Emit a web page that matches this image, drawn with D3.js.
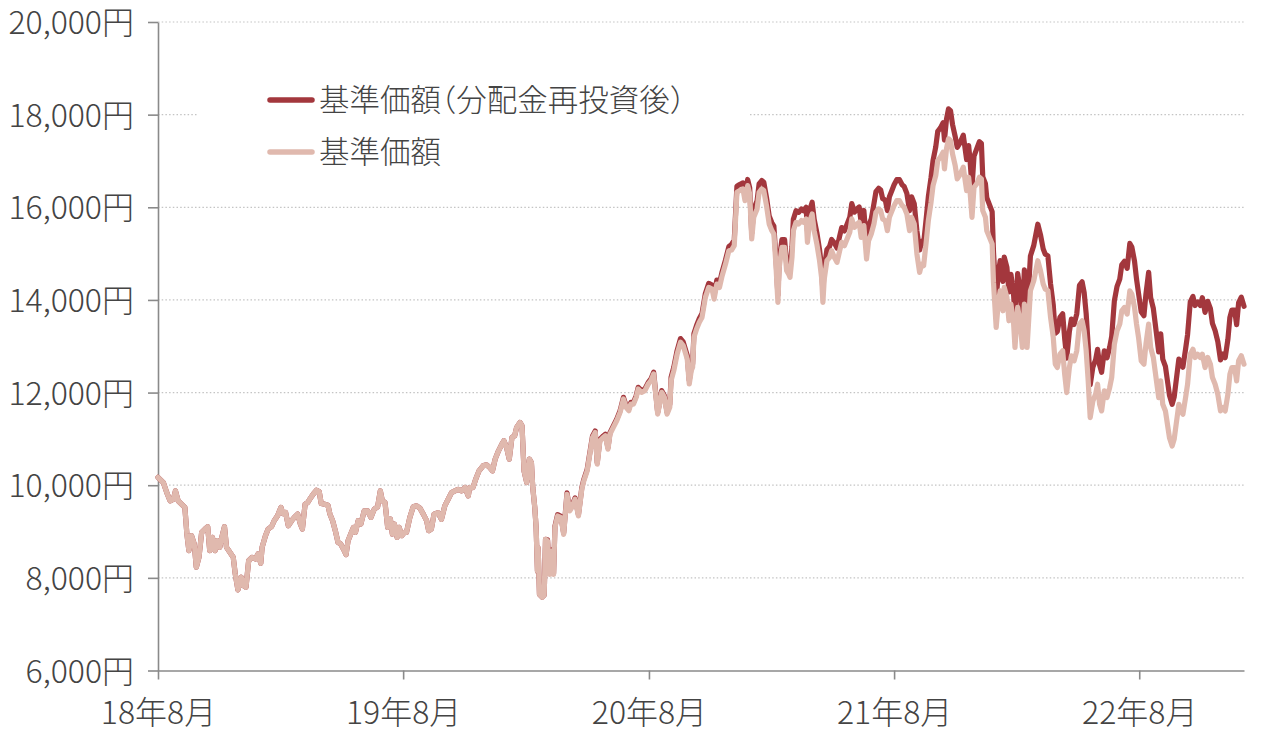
<!DOCTYPE html>
<html><head><meta charset="utf-8">
<script src="https://cdn.jsdelivr.net/npm/d3@7"></script>
<style>
body{margin:0;background:#fff}
svg{display:block}
text{font-family:"Noto Sans CJK JP","Noto Sans",sans-serif}
</style>
</head><body>
<svg id="chart" width="1280" height="743"></svg>
<script>
const dates = [
"2018-08-31","2018-09-08","2018-09-13","2018-09-18","2018-09-23","2018-09-26","2018-09-30","2018-10-05","2018-10-10","2018-10-13","2018-10-16","2018-10-20","2018-10-24","2018-10-27","2018-10-31","2018-11-04","2018-11-09","2018-11-13","2018-11-16","2018-11-20","2018-11-24","2018-11-27","2018-12-01","2018-12-04","2018-12-08","2018-12-11","2018-12-16","2018-12-21","2018-12-24","2018-12-28",
"2019-01-02","2019-01-05","2019-01-09","2019-01-13","2019-01-18","2019-01-23","2019-01-27","2019-01-31","2019-02-02","2019-02-07","2019-02-11","2019-02-16","2019-02-20","2019-02-25","2019-03-02","2019-03-05","2019-03-09","2019-03-13","2019-03-18","2019-03-22","2019-03-27","2019-03-31","2019-04-03","2019-04-07","2019-04-11","2019-04-14","2019-04-19","2019-04-24","2019-04-28","2019-05-01","2019-05-06","2019-05-11","2019-05-14","2019-05-18","2019-05-22","2019-05-26","2019-05-30","2019-06-03","2019-06-07","2019-06-10","2019-06-14","2019-06-18","2019-06-21","2019-06-25","2019-06-29","2019-07-04","2019-07-09","2019-07-14","2019-07-19","2019-07-24","2019-07-28","2019-07-31","2019-08-04","2019-08-08","2019-08-12","2019-08-15","2019-08-18","2019-08-22","2019-08-25","2019-08-29","2019-09-02","2019-09-05","2019-09-10","2019-09-15","2019-09-20","2019-09-25","2019-09-30","2019-10-05","2019-10-08","2019-10-12","2019-10-16","2019-10-22","2019-10-27","2019-11-01","2019-11-06","2019-11-11","2019-11-16","2019-11-21","2019-11-26","2019-12-01","2019-12-06","2019-12-08","2019-12-13","2019-12-17","2019-12-22","2019-12-28",
"2020-01-02","2020-01-07","2020-01-11","2020-01-15","2020-01-20","2020-01-25","2020-01-28","2020-02-01","2020-02-05","2020-02-09","2020-02-13","2020-02-16","2020-02-21","2020-02-24","2020-02-27","2020-03-02","2020-03-06","2020-03-09","2020-03-11","2020-03-14","2020-03-16","2020-03-18","2020-03-19","2020-03-21","2020-03-25","2020-03-28","2020-03-30","2020-04-02","2020-04-05","2020-04-08","2020-04-11","2020-04-13","2020-04-17","2020-04-22","2020-04-26","2020-05-01","2020-05-05","2020-05-08","2020-05-13","2020-05-18","2020-05-23","2020-05-26","2020-05-31","2020-06-04","2020-06-08","2020-06-12","2020-06-15","2020-06-19","2020-06-24","2020-06-27","2020-07-01","2020-07-04","2020-07-09","2020-07-14","2020-07-19","2020-07-24","2020-07-28","2020-08-01","2020-08-04","2020-08-08","2020-08-12","2020-08-15","2020-08-20","2020-08-25","2020-08-30","2020-09-03","2020-09-07","2020-09-11","2020-09-13","2020-09-16","2020-09-19","2020-09-23","2020-09-27","2020-10-01","2020-10-03","2020-10-07","2020-10-12","2020-10-17","2020-10-21","2020-10-24","2020-10-27","2020-10-30","2020-11-02","2020-11-04","2020-11-06","2020-11-10","2020-11-14","2020-11-18","2020-11-23","2020-11-28","2020-12-03","2020-12-06","2020-12-10","2020-12-14","2020-12-18","2020-12-23","2020-12-28",
"2021-01-01","2021-01-05","2021-01-09","2021-01-13","2021-01-18","2021-01-21","2021-01-25","2021-01-28","2021-01-31","2021-02-03","2021-02-08","2021-02-11","2021-02-15","2021-02-18","2021-02-22","2021-02-26","2021-03-02","2021-03-05","2021-03-08","2021-03-11","2021-03-13","2021-03-17","2021-03-21","2021-03-24","2021-03-27","2021-03-29","2021-04-01","2021-04-03","2021-04-07","2021-04-11","2021-04-15","2021-04-18","2021-04-22","2021-04-24","2021-04-27","2021-05-01","2021-05-04","2021-05-08","2021-05-12","2021-05-15","2021-05-17","2021-05-19","2021-05-23","2021-05-27","2021-05-30","2021-06-03","2021-06-07","2021-06-11","2021-06-14","2021-06-18","2021-06-22","2021-06-26","2021-06-29","2021-07-03","2021-07-07","2021-07-10","2021-07-13","2021-07-17","2021-07-21","2021-07-24","2021-07-28","2021-08-01","2021-08-04","2021-08-08","2021-08-11","2021-08-14","2021-08-18","2021-08-21","2021-08-24","2021-08-28","2021-08-31","2021-09-04","2021-09-08","2021-09-12","2021-09-15","2021-09-19","2021-09-23","2021-09-26","2021-09-30","2021-10-04","2021-10-08","2021-10-11","2021-10-14","2021-10-18","2021-10-21","2021-10-25","2021-10-28","2021-11-01","2021-11-04","2021-11-08","2021-11-12","2021-11-14","2021-11-17","2021-11-20","2021-11-23","2021-11-26","2021-11-30","2021-12-03","2021-12-07","2021-12-12","2021-12-17","2021-12-20","2021-12-22","2021-12-25","2021-12-28",
"2022-01-01","2022-01-05","2022-01-08","2022-01-10","2022-01-14","2022-01-16","2022-01-20","2022-01-24","2022-01-26","2022-01-30","2022-02-02","2022-02-05","2022-02-09","2022-02-11","2022-02-15","2022-02-18","2022-02-21","2022-02-25","2022-02-27","2022-03-03","2022-03-07","2022-03-10","2022-03-13","2022-03-17","2022-03-22","2022-03-27","2022-04-02","2022-04-06","2022-04-10","2022-04-13","2022-04-17","2022-04-21","2022-04-25","2022-04-28","2022-05-01","2022-05-05","2022-05-09","2022-05-12","2022-05-15","2022-05-19","2022-05-22","2022-05-26","2022-05-30","2022-06-03","2022-06-07","2022-06-10","2022-06-13","2022-06-16","2022-06-19","2022-06-23","2022-06-27","2022-06-30","2022-07-03","2022-07-06","2022-07-10","2022-07-14","2022-07-18","2022-07-21","2022-07-25","2022-07-29","2022-08-02","2022-08-05","2022-08-09","2022-08-13","2022-08-17","2022-08-20","2022-08-24","2022-08-27","2022-08-30","2022-09-03","2022-09-07","2022-09-10","2022-09-14","2022-09-17","2022-09-21","2022-09-25","2022-09-29","2022-10-02","2022-10-05","2022-10-09","2022-10-12","2022-10-15","2022-10-19","2022-10-22","2022-10-25","2022-10-29","2022-11-01","2022-11-04","2022-11-08","2022-11-11","2022-11-15","2022-11-19","2022-11-22","2022-11-26","2022-11-30","2022-12-03","2022-12-07","2022-12-11","2022-12-15","2022-12-18","2022-12-22","2022-12-26","2022-12-30",
"2023-01-03","2023-01-06","2023-01-10","2023-01-13","2023-01-16","2023-01-20","2023-01-23","2023-01-26","2023-01-30","2023-02-03"
];

// 基準価額
const nav = [
10170,10057,9842,9663,9700,9878,9663,9590,9520,8946,8588,8910,8730,8229,8444,8982,9054,9104,8588,8874,8588,8803,8659,8874,9104,8659,8552,8444,8086,7741,
8014,7835,7799,8372,8444,8408,8516,8315,8659,8910,9054,9104,9233,9340,9520,9390,9412,9125,9233,9305,9376,9161,9054,9591,9627,9699,9806,9892,9864,9606,9591,9570,9376,9233,9018,8767,8731,8623,8501,8803,8946,9090,8982,9233,9161,9448,9448,9305,9484,9534,9878,9663,9627,9090,9269,8946,9161,8874,9090,8910,8982,8982,9305,9534,9556,9505,9376,9233,9018,9054,9376,9409,9264,9553,9697,9841,9877,9913,9877,9950,9769,9950,9950,10130,10310,10418,
10440,10382,10310,10563,10743,10887,10959,10815,10563,11031,11067,11248,11356,11284,10310,10058,10563,10490,9950,9517,9084,8147,8651,7642,7584,7627,8832,8796,8074,8579,8074,9084,9336,9300,8940,9805,9445,9517,9697,9336,9913,10094,10310,10671,11031,11139,10454,10959,11031,11067,10779,11103,11248,11392,11572,11861,11680,11608,11752,11752,11897,12077,12005,12041,12185,12257,12402,11825,11536,11752,12005,11897,11536,11680,12257,12474,12834,13087,13015,12870,12726,12185,12474,12546,13195,13375,13519,13622,14054,14270,14234,14018,14342,14270,14523,14775,15063,
15077,15171,16324,16360,16396,16144,16468,16288,15315,15784,15964,16324,16396,16360,16036,15640,15495,15423,14775,13946,14703,15135,15135,14631,14559,14487,14919,15495,15676,15640,15712,15676,15748,15243,15676,15856,15495,15207,14847,14487,13946,14450,14847,14919,15063,14919,14811,15063,15243,15171,15315,15459,15748,15568,15640,15676,15351,15604,14883,15279,15423,15640,15892,15964,15928,15748,15712,15495,15784,15928,16036,16144,16144,16036,16000,15856,15495,15784,15640,14991,14595,14775,14739,15279,15712,16108,16468,16685,17009,17081,17189,16829,17261,17477,17441,17153,16901,16613,16700,16865,16360,16649,16360,15784,16432,
16504,16649,16613,15928,15784,15495,15351,15207,14378,13405,13910,14198,13766,14270,14054,13550,13910,13478,12973,13838,13478,12973,13910,12973,14198,14414,14847,14631,14342,14234,14198,13622,13189,12613,12541,12829,12901,12397,12000,12541,12793,12685,12901,13478,13550,13334,12901,12252,11459,11820,11964,12180,11748,11604,12036,11892,12108,12324,13045,13334,13478,13766,13838,13694,14198,14126,13838,13478,13189,12685,12613,13045,13478,12973,12757,12324,11892,12252,11748,11604,11316,11027,10847,10991,11316,11748,11604,11532,11892,12180,12829,12937,12757,12829,12757,12829,12541,12757,12613,12324,12180,11964,11604,
11676,11604,11964,12397,12541,12541,12252,12685,12793,12613
];

// 基準価額（分配金再投資後）
const navReinvested = [
10170,10057,9842,9663,9700,9878,9663,9590,9520,8946,8588,8910,8730,8229,8444,8982,9054,9104,8588,8874,8588,8803,8659,8874,9104,8659,8552,8444,8086,7741,
8014,7835,7799,8372,8444,8408,8516,8315,8659,8910,9054,9104,9233,9340,9520,9390,9412,9125,9233,9305,9376,9161,9054,9591,9627,9699,9806,9892,9864,9606,9591,9570,9376,9233,9018,8767,8731,8623,8501,8803,8946,9090,8982,9233,9161,9448,9448,9305,9484,9534,9878,9663,9627,9090,9269,8946,9161,8874,9090,8910,8982,8982,9305,9534,9556,9505,9376,9233,9018,9054,9376,9409,9264,9553,9697,9841,9877,9913,9877,9950,9769,9950,9950,10130,10310,10418,
10440,10382,10310,10563,10743,10887,10959,10815,10563,11031,11067,11248,11356,11284,10310,10058,10563,10490,9950,9517,9084,8147,8651,7642,7584,7627,8832,8822,8098,8605,8098,9111,9364,9328,8967,9834,9473,9546,9726,9364,9943,10124,10341,10703,11064,11172,10485,10992,11064,11100,10811,11136,11282,11426,11607,11897,11715,11643,11787,11787,11933,12113,12041,12077,12222,12294,12439,11860,11571,11787,12041,11933,11571,11750,12331,12549,12911,13166,13093,12947,12802,12258,12549,12621,13274,13455,13600,13704,14138,14356,14319,14102,14428,14356,14610,14864,15153,
15198,15292,16455,16491,16527,16273,16600,16418,15438,15958,16140,16504,16576,16540,16212,15812,15665,15593,14938,14099,14865,15301,15301,14792,14719,14646,15158,15743,15927,15890,15963,15927,16000,15487,15927,16110,15743,15450,15085,14719,14169,14681,15085,15158,15304,15232,15122,15379,15563,15490,15637,15784,16079,15895,15968,16005,15673,15932,15196,15600,15747,16078,16337,16411,16374,16189,16152,15929,16226,16374,16485,16596,16596,16485,16448,16300,15929,16226,16078,15486,15077,15263,15225,15783,16230,16640,17011,17302,17638,17713,17825,17452,17900,18124,18086,17788,17526,17294,17385,17556,17031,17332,17031,16431,17106,
17263,17415,17377,16661,16510,16208,16057,15907,15039,14022,14550,14851,14399,14926,14700,14173,14550,14098,13570,14571,14192,13661,14647,13661,14950,15178,15634,15406,15102,14988,14950,14344,13888,13281,13319,13624,13701,13166,12744,13319,13586,13471,13701,14314,14390,14161,13701,13012,12169,12553,12706,12935,12594,12439,12903,12748,12980,13211,13984,14294,14448,14757,14834,14680,15220,15143,14834,14448,14139,13738,13660,14128,14597,14050,13816,13347,12879,13269,12723,12567,12255,11942,11747,11903,12255,12723,12625,12547,12939,13252,13958,14075,13880,13958,13880,14048,13732,13969,13811,13495,13337,13101,12706,
12832,12753,13148,13624,13783,13783,13465,13941,14060,13862
];

const yTicks = [6000, 8000, 10000, 12000, 14000, 16000, 18000, 20000];
const xTickDates = ["2018-08-31", "2019-08-31", "2020-08-31", "2021-08-31", "2022-08-31"];
const xTickLabels = ["18年8月", "19年8月", "20年8月", "21年8月", "22年8月"];
const seriesNames = ["基準価額（分配金再投資後）", "基準価額"];

const parse = d3.timeParse("%Y-%m-%d");
const svg = d3.select("#chart");
const L = 158, R = 1244, T = 22, B = 670.5;
const colDark = "#a3373d", colLight = "#e0b9ae", axisCol = "#8a8a8a", textCol = "#444";

const x = d3.scaleTime().domain([parse(dates[0]), parse(dates[dates.length - 1])]).range([L, R]);
const y = d3.scaleLinear().domain([6000, 20000]).range([B, T]);

// gridlines
svg.append("g").selectAll("line").data(yTicks.filter(v => v > 6000)).join("line")
  .attr("x1", L).attr("x2", R).attr("y1", d => y(d)).attr("y2", d => y(d))
  .attr("stroke", "#c4c4c4").attr("stroke-width", 1.2).attr("stroke-dasharray", "1.5,2.2");

// legend background
svg.append("rect").attr("x", 198).attr("y", 72).attr("width", 552).attr("height", 104).attr("fill", "#fff");

// axes
const yAxis = svg.append("g").attr("transform", `translate(${L},0)`)
  .call(d3.axisLeft(y).tickValues(yTicks).tickSize(10).tickSizeOuter(0).tickPadding(14)
    .tickFormat(d => d3.format(",")(d) + "円"));
const xAxis = svg.append("g").attr("transform", `translate(0,${B})`)
  .call(d3.axisBottom(x).tickValues(xTickDates.map(parse)).tickSize(9).tickSizeOuter(0)
    .tickFormat((d, i) => xTickLabels[i]));
[yAxis, xAxis].forEach(g => {
  g.select(".domain").attr("stroke", axisCol).attr("stroke-width", 1.6);
  g.selectAll(".tick line").attr("stroke", axisCol).attr("stroke-width", 1.6);
  g.selectAll("text").attr("fill", textCol).style("font-size", "32px").style("font-weight", 300);
});
yAxis.selectAll("text").attr("dy", "0.36em");
xAxis.selectAll("text").attr("y", 0).attr("dy", 0).attr("transform", "translate(0,53)");

// lines
const pts = vals => vals.map((v, i) => [parse(dates[i]), v]);
const line = d3.line().x(d => x(d[0])).y(d => y(d[1]));
svg.append("path").datum(pts(navReinvested)).attr("d", line)
  .attr("fill", "none").attr("stroke", colDark).attr("stroke-width", 5.2).attr("stroke-linejoin", "round").attr("stroke-linecap", "round");
svg.append("path").datum(pts(nav)).attr("d", line)
  .attr("fill", "none").attr("stroke", colLight).attr("stroke-width", 5.2).attr("stroke-linejoin", "round").attr("stroke-linecap", "round");

// legend
const lg = svg.append("g");
[[colDark, 100], [colLight, 152]].forEach(([c, yy], i) => {
  lg.append("line").attr("x1", 270).attr("x2", 312).attr("y1", yy).attr("y2", yy)
    .attr("stroke", c).attr("stroke-width", 5.5).attr("stroke-linecap", "round");
  lg.append("text").attr("x", 319).attr("y", yy).attr("dy", "0.36em")
    .attr("fill", textCol).style("font-size", "30.5px").style("font-weight", 300)
    .style("font-feature-settings", "'halt'").text(seriesNames[i]);
});
</script>
</body></html>
